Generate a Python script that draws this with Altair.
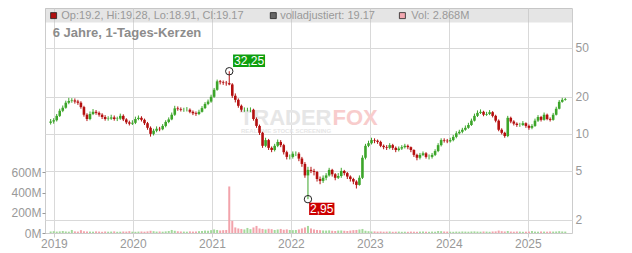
import altair as alt
import pandas as pd

FONT = "Liberation Sans"

# ---------------- data (14-day candles) ----------------
START = "2018-12-17"
first_open = 12.3
closes = [
    12.6, 12.9, 14.0, 15.4, 16.3, 17.9, 18.5, 18.7, 18.3, 17.9,
    16.5, 14.3, 13.2, 14.5, 15.1, 14.8, 14.3, 13.7, 13.2, 13.3,
    13.6, 13.2, 13.3, 14.0, 13.1, 12.4, 12.1, 12.3, 13.2, 13.5,
    13.0, 12.2, 11.2, 10.0, 10.6, 11.0, 10.9, 11.6, 12.5, 13.1,
    14.3, 16.1, 15.9, 15.7, 15.7, 15.7, 15.1, 14.7, 14.5, 15.1,
    16.2, 17.5, 18.3, 20.0, 22.8, 26.7, 26.3, 26.0, 25.8, 25.2,
    20.4, 18.9, 16.9, 15.7, 15.7, 15.7, 15.7, 13.2, 11.6, 10.2,
    8.0, 8.9, 7.7, 7.4, 8.0, 8.6, 8.1, 7.1, 6.5, 6.5,
    6.9, 6.9, 6.3, 5.7, 4.6, 5.1, 5.0, 4.9, 4.3, 4.15,
    4.4, 4.6, 5.1, 4.7, 4.4, 4.55, 5.0, 4.8, 4.5, 4.3,
    4.1, 3.85, 4.4, 6.4, 8.0, 8.4, 8.9, 8.8, 8.6, 8.0,
    7.8, 7.7, 8.1, 7.7, 7.4, 7.6, 7.8, 8.0, 7.8, 7.4,
    6.75, 6.4, 6.75, 6.95, 6.5, 6.5, 6.75, 7.25, 8.1, 8.9,
    8.8, 8.7, 8.9, 9.45, 10.1, 10.4, 10.8, 11.2, 11.8, 12.8,
    14.0, 14.8, 15.1, 14.3, 14.5, 15.0, 14.0, 12.8, 10.8, 10.2,
    9.6, 13.5, 12.6, 12.1, 11.8, 11.8, 12.2, 11.6, 11.2, 11.6,
    12.8, 13.7, 13.0, 14.3, 13.2, 13.0, 14.3, 16.0, 18.2, 18.9,
    19.17,
]
highs = [
    13.2, 13.4, 14.5, 16.0, 17.0, 18.6, 19.6, 19.5, 19.4, 18.9,
    18.4, 16.9, 14.7, 15.2, 15.9, 15.6, 15.2, 14.7, 14.2, 13.9,
    14.3, 14.1, 13.8, 14.6, 14.4, 13.4, 12.8, 12.9, 13.8, 14.1,
    13.9, 13.3, 12.5, 11.5, 11.0, 11.5, 11.4, 12.0, 12.9, 13.6,
    14.9, 16.9, 16.7, 16.4, 16.3, 16.5, 16.1, 15.5, 15.2, 15.7,
    16.8, 18.1, 19.0, 20.8, 23.6, 27.6, 27.4, 27.1, 26.9, 32.25,
    25.8, 21.3, 19.4, 17.3, 16.4, 16.3, 16.4, 16.0, 13.6, 11.9,
    10.4, 9.3, 9.1, 7.9, 8.3, 9.0, 8.9, 8.3, 7.3, 6.8,
    7.2, 7.2, 7.1, 6.5, 5.9, 5.4, 5.4, 5.2, 5.0, 4.5,
    4.6, 4.8, 5.3, 5.2, 4.8, 4.8, 5.3, 5.1, 4.9, 4.6,
    4.4, 4.2, 4.6, 6.7, 8.3, 8.8, 9.3, 9.2, 9.0, 8.8,
    8.2, 8.1, 8.4, 8.3, 7.9, 7.9, 8.1, 8.3, 8.2, 7.9,
    7.5, 6.9, 7.0, 7.2, 7.1, 6.8, 7.0, 7.5, 8.4, 9.2,
    9.2, 9.1, 9.3, 9.8, 10.5, 10.8, 11.2, 11.7, 12.3, 13.3,
    14.6, 15.5, 15.8, 15.4, 15.1, 15.6, 15.3, 14.3, 13.1, 11.1,
    10.4, 14.0, 13.8, 12.9, 12.4, 12.3, 12.7, 12.4, 11.9, 12.0,
    13.3, 14.2, 14.0, 14.9, 14.6, 13.6, 14.8, 16.6, 18.8, 19.6,
    19.6,
]
lows = [
    11.9, 12.1, 12.6, 13.7, 15.0, 16.0, 17.4, 17.9, 17.6, 17.2,
    16.0, 13.8, 12.7, 12.9, 14.2, 14.3, 13.8, 13.2, 12.8, 12.8,
    13.0, 12.8, 12.7, 13.0, 12.7, 12.0, 11.7, 11.8, 12.0, 12.9,
    12.6, 11.8, 10.8, 9.5, 9.7, 10.3, 10.5, 10.7, 11.3, 12.2,
    12.9, 14.0, 15.4, 15.2, 15.1, 15.2, 14.7, 14.2, 14.0, 14.2,
    14.9, 15.9, 17.1, 17.9, 19.6, 22.4, 25.2, 25.0, 24.6, 24.8,
    19.6, 18.0, 16.3, 15.1, 15.1, 15.2, 15.0, 12.8, 11.2, 9.8,
    7.7, 7.8, 7.4, 7.1, 7.2, 7.8, 7.8, 6.8, 6.2, 6.2,
    6.3, 6.6, 6.0, 5.4, 4.4, 2.95, 4.8, 4.6, 4.1, 3.9,
    4.0, 4.2, 4.5, 4.5, 4.2, 4.3, 4.4, 4.6, 4.3, 4.1,
    3.9, 3.6, 3.8, 4.3, 6.2, 7.8, 8.2, 8.4, 8.3, 7.8,
    7.5, 7.4, 7.5, 7.4, 7.1, 7.2, 7.4, 7.6, 7.5, 7.1,
    6.5, 6.1, 6.2, 6.6, 6.3, 6.2, 6.3, 6.6, 7.1, 7.9,
    8.5, 8.4, 8.5, 8.7, 9.2, 9.9, 10.1, 10.6, 11.0, 11.6,
    12.6, 13.7, 14.5, 13.9, 14.0, 14.2, 13.6, 12.4, 10.5, 9.9,
    9.3, 9.4, 12.2, 11.7, 11.4, 11.4, 11.6, 11.2, 10.8, 10.9,
    11.4, 12.5, 12.6, 12.8, 12.9, 12.6, 12.8, 14.1, 15.8, 17.9,
    18.6,
]
volumes_m = [
    15, 18, 14, 16, 20, 15, 13, 30, 16, 14,
    28, 17, 15, 14, 13, 16, 14, 12, 15, 13,
    14, 16, 12, 13, 15, 14, 18, 13, 12, 14,
    15, 13, 16, 22, 18, 14, 15, 13, 16, 20,
    30, 22, 17, 15, 14, 13, 16, 14, 15, 18,
    20, 24, 22, 28, 35, 30, 25, 28, 30, 460,
    120, 55, 45, 40, 35, 50, 38, 55, 70, 45,
    40, 35, 42, 38, 30, 35, 40, 32, 36, 30,
    28, 30, 35, 45, 55, 70, 45, 35, 30, 28,
    25, 24, 26, 22, 20, 24, 25, 22, 20, 24,
    28, 30, 35, 40, 22, 18, 15, 16, 14, 15,
    13, 14, 15, 12, 13, 14, 12, 13, 12, 14,
    13, 12, 14, 15, 13, 12, 14, 13, 20, 18,
    15, 14, 13, 12, 14, 13, 15, 14, 13, 15,
    16, 14, 13, 15, 14, 12, 15, 16, 24, 18,
    15, 20, 14, 13, 15, 14, 12, 13, 14, 20,
    14, 13, 15, 14, 13, 15, 14, 16, 18, 15,
    14,
]

year_ticks = [2019, 2020, 2021, 2022, 2023, 2024, 2025]
price_ticks = [2, 5, 10, 20, 50]
volume_ticks = [0, 200, 400, 600]

legend_texts = ["Op:19.2, Hi:19.28, Lo:18.91, Cl:19.17", "volladjustiert: 19.17", "Vol: 2.868M"]
legend_colors = ["#b01010", "#666666", "#f2a7b0"]
title_text = "6 Jahre, 1-Tages-Kerzen"
watermark = ["TRADER", "FOX", "REALTIME STOCK SCREENING"]

# ---------------- table ----------------
dates = pd.date_range(START, periods=len(closes), freq="14D")
opens = [first_open] + closes[:-1]
df = pd.DataFrame({
    "date": dates, "open": opens, "high": highs, "low": lows,
    "close": closes, "volume": volumes_m,
})

i_hi = max(range(len(highs)), key=lambda i: highs[i])
i_lo = min(range(len(lows)), key=lambda i: lows[i])
hi_df = pd.DataFrame({"date": [dates[i_hi]], "value": [highs[i_hi]],
                      "label": [f"{highs[i_hi]:.2f}".replace(".", ",")]})
lo_df = pd.DataFrame({"date": [dates[i_lo]], "value": [lows[i_lo]],
                      "label": [f"{lows[i_lo]:.2f}".replace(".", ",")]})
one = pd.DataFrame({"k": [0]})

GREEN = "#3ca52a"
RED = "#b40f0f"
VGREEN = "#a3d99b"
VRED = "#f2a3ab"
GRID = "#d9d9d9"
LABEL = "#999999"

W, H = 527, 225

x_enc = alt.X(
    "date:T", title=None,
    scale=alt.Scale(domain=[alt.DateTime(year=2018, month=12, date=14),
                            alt.DateTime(year=2025, month=7, date=1)]),
    axis=alt.Axis(values=[alt.DateTime(year=y, month=1, date=1) for y in year_ticks],
                  format="%Y", grid=True, gridColor=GRID, domain=False,
                  tickSize=4, tickColor="#cccccc", labelPadding=1,
                  labelColor=LABEL, labelFont=FONT, labelFontSize=12),
)

price_scale = alt.Scale(type="log", domain=[1.567, 105.2], nice=False)
price_axis = alt.Axis(orient="right", values=price_ticks, title=None, grid=True,
                      gridColor=GRID, domain=False, ticks=False, labelPadding=3,
                      labelColor=LABEL, labelFont=FONT, labelFontSize=12)


def py(field):
    return alt.Y(field, scale=price_scale, axis=price_axis)


candle_color = alt.condition("datum.close >= datum.open", alt.value(GREEN), alt.value(RED))
vol_color = alt.condition("datum.close >= datum.open", alt.value(VGREEN), alt.value(VRED))

# volume (left axis)
volume = alt.Chart(df).mark_bar(size=2).encode(
    x=x_enc,
    y=alt.Y("volume:Q", title=None,
            scale=alt.Scale(domain=[0, 2224], nice=False, zero=True),
            axis=alt.Axis(orient="left", values=volume_ticks, labelExpr="datum.value + 'M'",
                          grid=False, domain=False, tickSize=3, tickColor="#999999",
                          labelPadding=1, labelColor=LABEL, labelFont=FONT, labelFontSize=12)),
    color=vol_color,
)

# decorations
band = alt.Chart(one).mark_rect(color="#bdbdbd", opacity=0.4).encode(
    x=alt.value(0), x2=alt.value(W), y=alt.value(0), y2=alt.value(14.5))

wm1 = alt.Chart(one).mark_text(font=FONT, fontSize=22, fontWeight="bold", align="right",
                               baseline="alphabetic", color="#e6e6e6").encode(
    x=alt.value(286.5), y=alt.value(117), text=alt.value(watermark[0]))
wm2 = alt.Chart(one).mark_text(font=FONT, fontSize=22, fontWeight="bold", align="left",
                               baseline="alphabetic", color="#f8cccc").encode(
    x=alt.value(287.5), y=alt.value(117), text=alt.value(watermark[1]))
wm3 = alt.Chart(one).mark_text(font=FONT, fontSize=6, fontWeight="bold", align="left",
                               baseline="alphabetic", color="#e6e6e6").encode(
    x=alt.value(196), y=alt.value(124.5), text=alt.value(watermark[2]))

title = alt.Chart(one).mark_text(font=FONT, fontSize=13, fontWeight="bold", align="left",
                                 baseline="middle", color="#8c8c8c").encode(
    x=alt.value(7.7), y=alt.value(25), text=alt.value(title_text))

legend_x_sq = [8.6, 228.3, 357.4]
legend_x_tx = [16.3, 235.2, 366.3]
legend_layers = []
for sx, tx, txt, col in zip(legend_x_sq, legend_x_tx, legend_texts, legend_colors):
    legend_layers.append(
        alt.Chart(one).mark_point(shape="square", filled=True, size=36, opacity=1,
                                  stroke="#222222", strokeWidth=0.8).encode(
            x=alt.value(sx), y=alt.value(7.6), fill=alt.value(col)))
    legend_layers.append(
        alt.Chart(one).mark_text(font=FONT, fontSize=11, align="left", baseline="middle",
                                 color="#999999").encode(
            x=alt.value(tx), y=alt.value(7.8), text=alt.value(txt)))

# candles
wicks = alt.Chart(df).mark_rule(strokeWidth=1).encode(
    x=x_enc, y=py("high:Q"), y2="low:Q", color=candle_color)
bodies = alt.Chart(df).mark_bar(size=2.6).encode(
    x=x_enc, y=py("open:Q"), y2="close:Q", color=candle_color)

# annotations
def annotation(data, fill, path, size, dx, dy):
    circ = alt.Chart(data).mark_point(shape="circle", size=55, filled=False, color="#222222",
                                      strokeWidth=1, opacity=1).encode(x=x_enc, y=py("value:Q"))
    box = alt.Chart(data).mark_point(shape=path, size=size, filled=True, opacity=1,
                                     color=fill, strokeWidth=0, xOffset=dx, yOffset=dy).encode(
        x=x_enc, y=py("value:Q"))
    lab = alt.Chart(data).mark_text(font=FONT, fontSize=12, color="white", align="center",
                                    baseline="middle", dx=dx, dy=dy).encode(
        x=x_enc, y=py("value:Q"), text="label:N")
    return [circ, box, lab]


ann_hi = annotation(hi_df, "#0f9f0f", "M-1,-0.39H1V0.39H-1Z", 1024, 19.8, -10.5)
ann_lo = annotation(lo_df, "#cc0000", "M-1,-0.486H1V0.486H-1Z", 640, 13.8, 9.7)

price = alt.layer(band, wm1, wm2, wm3, title, *legend_layers, wicks, bodies, *ann_hi, *ann_lo)

chart = alt.layer(volume, price).resolve_scale(y="independent").properties(
    width=W, height=H,
    padding={"left": 45, "top": 8, "right": 60, "bottom": 20},
    autosize=alt.AutoSizeParams(type="none"),
    background="white",
).configure_view(stroke="#cccccc", strokeWidth=1)

chart.save("out.html", embed_options={"renderer": "svg", "actions": False})
